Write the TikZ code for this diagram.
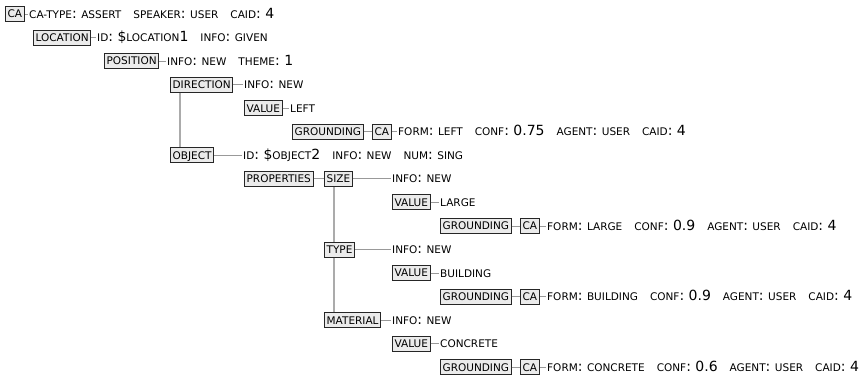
\documentclass[tikz,border=0pt]{standalone}
\usepackage{fontspec}
\setmainfont{DejaVu Sans}
\newcommand\sk[1]{{\fontsize{10.5}{12}\selectfont #1}}
\newcommand\gp{\hspace{12pt}}
\begin{document}
\begin{tikzpicture}[x=1pt,y=-1pt,
  box/.style={draw=black!85,fill=black!8,line width=0.9pt,inner xsep=2.2pt,inner ysep=0pt,
    minimum height=15pt,text height=7.7pt,text depth=0pt,anchor=west,
    font=\fontsize{10.5}{12}\selectfont},
  attr/.style={anchor=base west,inner sep=0pt,font=\fontsize{14}{16}\selectfont},
  conn/.style={draw=black!40,line width=1pt},
  vconn/.style={draw=black!33,line width=1.4pt}]
\useasboundingbox (0,0) rectangle (863,378);
% rows
\def\ra{14}\def\rb{37.5}\def\rc{61.1}\def\rd{84.7}\def\re{108.2}\def\rf{131.8}
\def\rg{155.3}\def\rh{178.9}\def\ri{202.4}\def\rj{226}\def\rk{249.8}\def\rl{273.1}
\def\rm{296.6}\def\rn{320.2}\def\ro{343.7}\def\rp{367.3}
% boxes
\node[box] (ca0) at (5,\ra) {CA};
\node[box] (loc) at (33,\rb) {LOCATION};
\node[box] (pos) at (104,\rc) {POSITION};
\node[box] (dir) at (170,\rd) {DIRECTION};
\node[box] (val1) at (244,\re) {VALUE};
\node[box] (gr1) at (292,\rf) {GROUNDING};
\node[box] (ca1) at (372,\rf) {CA};
\node[box] (obj) at (170,\rg) {OBJECT};
\node[box] (props) at (244,\rh) {PROPERTIES};
\node[box] (size) at (324,\rh) {SIZE};
\node[box] (val2) at (392,\ri) {VALUE};
\node[box] (gr2) at (440,\rj) {GROUNDING};
\node[box] (ca2) at (520,\rj) {CA};
\node[box] (type) at (324,\rk) {TYPE};
\node[box] (val3) at (392,\rl) {VALUE};
\node[box] (gr3) at (440,\rm) {GROUNDING};
\node[box] (ca3) at (520,\rm) {CA};
\node[box] (mat) at (324,\rn) {MATERIAL};
\node[box] (val4) at (392,\ro) {VALUE};
\node[box] (gr4) at (440,\rp) {GROUNDING};
\node[box] (ca4) at (520,\rp) {CA};
% texts
\node[attr] (t0) at (29,\ra+4) {\sk{CA-TYPE}: \sk{ASSERT}\gp\sk{SPEAKER}: \sk{USER}\gp\sk{CAID}: 4};
\node[attr] (t1) at (97,\rb+4) {\sk{ID}: \$\sk{LOCATION}1\gp\sk{INFO}: \sk{GIVEN}};
\node[attr] (t2) at (167,\rc+4) {\sk{INFO}: \sk{NEW}\gp\sk{THEME}: 1};
\node[attr] (t3) at (244,\rd+4) {\sk{INFO}: \sk{NEW}};
\node[attr] (t4) at (290,\re+4) {\sk{LEFT}};
\node[attr] (t5) at (398,\rf+4) {\sk{FORM}: \sk{LEFT}\gp\sk{CONF}: 0.75\gp\sk{AGENT}: \sk{USER}\gp\sk{CAID}: 4};
\node[attr] (t6) at (243,\rg+4) {\sk{ID}: \$\sk{OBJECT}2\gp\sk{INFO}: \sk{NEW}\gp\sk{NUM}: \sk{SING}};
\node[attr] (t7) at (392,\rh+4) {\sk{INFO}: \sk{NEW}};
\node[attr] (t8) at (440,\ri+4) {\sk{LARGE}};
\node[attr] (t9) at (547,\rj+4) {\sk{FORM}: \sk{LARGE}\gp\sk{CONF}: 0.9\gp\sk{AGENT}: \sk{USER}\gp\sk{CAID}: 4};
\node[attr] (t10) at (392,\rk+4) {\sk{INFO}: \sk{NEW}};
\node[attr] (t11) at (440,\rl+4) {\sk{BUILDING}};
\node[attr] (t12) at (547,\rm+4) {\sk{FORM}: \sk{BUILDING}\gp\sk{CONF}: 0.9\gp\sk{AGENT}: \sk{USER}\gp\sk{CAID}: 4};
\node[attr] (t13) at (392,\rn+4) {\sk{INFO}: \sk{NEW}};
\node[attr] (t14) at (440,\ro+4) {\sk{CONCRETE}};
\node[attr] (t15) at (547,\rp+4) {\sk{FORM}: \sk{CONCRETE}\gp\sk{CONF}: 0.6\gp\sk{AGENT}: \sk{USER}\gp\sk{CAID}: 4};
% connectors box -> text
\foreach \b/\t in {ca0/t0,loc/t1,pos/t2,dir/t3,val1/t4,ca1/t5,obj/t6,size/t7,val2/t8,ca2/t9,type/t10,val3/t11,ca3/t12,mat/t13,val4/t14,ca4/t15}
  \draw[conn] (\b.east) -- ([xshift=-1pt]\b.east -| \t.west);
% box -> box
\draw[conn] (gr1.east) -- (ca1.west);
\draw[conn] (gr2.east) -- (ca2.west);
\draw[conn] (gr3.east) -- (ca3.west);
\draw[conn] (gr4.east) -- (ca4.west);
\draw[conn] (props.east) -- (size.west);
% sibling lines
\draw[vconn] ([xshift=10pt]dir.south west) -- ([xshift=10pt]obj.north west);
\draw[vconn] ([xshift=10pt]size.south west) -- ([xshift=10pt]type.north west);
\draw[vconn] ([xshift=10pt]type.south west) -- ([xshift=10pt]mat.north west);
\end{tikzpicture}
\end{document}
